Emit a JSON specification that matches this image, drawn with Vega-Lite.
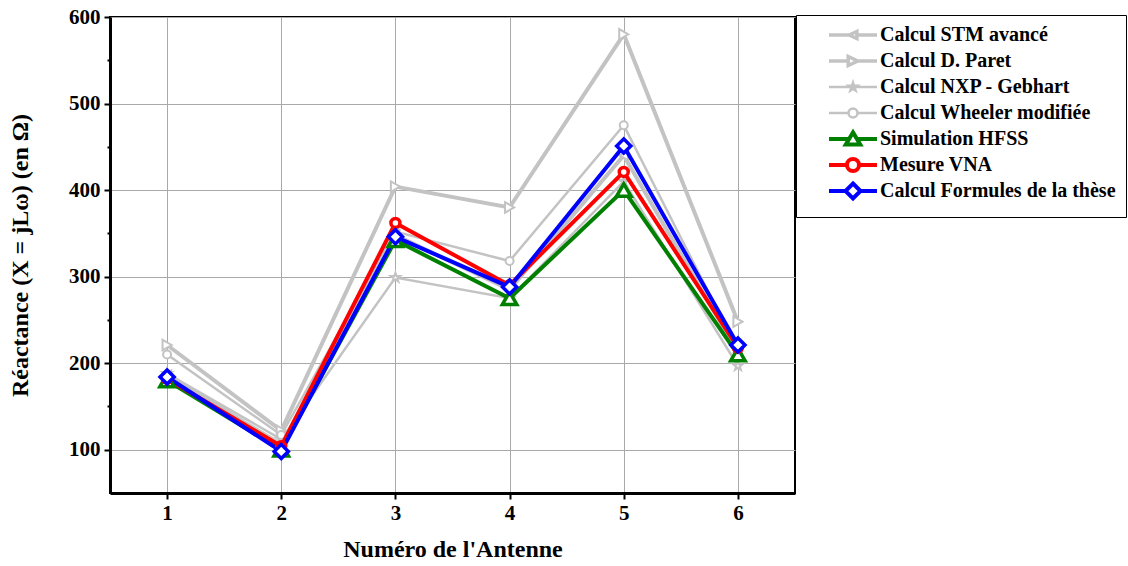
{
  "$schema": "https://vega.github.io/schema/vega-lite/v6.json",
  "width": 685,
  "height": 476,
  "autosize": "none",
  "padding": {"left": 110, "top": 17, "right": 333, "bottom": 73},
  "background": "white",
  "config": {"view": {"stroke": "black", "strokeWidth": 2}, "font": "Liberation Serif"},
  "data": {"values": [
    {"serie": "Calcul STM avancé", "antenne": 1, "valeur": 186},
    {"serie": "Calcul STM avancé", "antenne": 2, "valeur": 106},
    {"serie": "Calcul STM avancé", "antenne": 3, "valeur": 348},
    {"serie": "Calcul STM avancé", "antenne": 4, "valeur": 285},
    {"serie": "Calcul STM avancé", "antenne": 5, "valeur": 440},
    {"serie": "Calcul STM avancé", "antenne": 6, "valeur": 212},
    {"serie": "Calcul D. Paret", "antenne": 1, "valeur": 221},
    {"serie": "Calcul D. Paret", "antenne": 2, "valeur": 122},
    {"serie": "Calcul D. Paret", "antenne": 3, "valeur": 404},
    {"serie": "Calcul D. Paret", "antenne": 4, "valeur": 380},
    {"serie": "Calcul D. Paret", "antenne": 5, "valeur": 580},
    {"serie": "Calcul D. Paret", "antenne": 6, "valeur": 248},
    {"serie": "Calcul NXP - Gebhart", "antenne": 1, "valeur": 188},
    {"serie": "Calcul NXP - Gebhart", "antenne": 2, "valeur": 112},
    {"serie": "Calcul NXP - Gebhart", "antenne": 3, "valeur": 299},
    {"serie": "Calcul NXP - Gebhart", "antenne": 4, "valeur": 275},
    {"serie": "Calcul NXP - Gebhart", "antenne": 5, "valeur": 410},
    {"serie": "Calcul NXP - Gebhart", "antenne": 6, "valeur": 197},
    {"serie": "Calcul Wheeler modifiée", "antenne": 1, "valeur": 210},
    {"serie": "Calcul Wheeler modifiée", "antenne": 2, "valeur": 117},
    {"serie": "Calcul Wheeler modifiée", "antenne": 3, "valeur": 352},
    {"serie": "Calcul Wheeler modifiée", "antenne": 4, "valeur": 318},
    {"serie": "Calcul Wheeler modifiée", "antenne": 5, "valeur": 475},
    {"serie": "Calcul Wheeler modifiée", "antenne": 6, "valeur": 215},
    {"serie": "Simulation HFSS", "antenne": 1, "valeur": 180},
    {"serie": "Simulation HFSS", "antenne": 2, "valeur": 100},
    {"serie": "Simulation HFSS", "antenne": 3, "valeur": 342},
    {"serie": "Simulation HFSS", "antenne": 4, "valeur": 275},
    {"serie": "Simulation HFSS", "antenne": 5, "valeur": 400},
    {"serie": "Simulation HFSS", "antenne": 6, "valeur": 210},
    {"serie": "Mesure VNA", "antenne": 1, "valeur": 182},
    {"serie": "Mesure VNA", "antenne": 2, "valeur": 104},
    {"serie": "Mesure VNA", "antenne": 3, "valeur": 362},
    {"serie": "Mesure VNA", "antenne": 4, "valeur": 290},
    {"serie": "Mesure VNA", "antenne": 5, "valeur": 421},
    {"serie": "Mesure VNA", "antenne": 6, "valeur": 218},
    {"serie": "Calcul Formules de la thèse", "antenne": 1, "valeur": 184},
    {"serie": "Calcul Formules de la thèse", "antenne": 2, "valeur": 98},
    {"serie": "Calcul Formules de la thèse", "antenne": 3, "valeur": 346},
    {"serie": "Calcul Formules de la thèse", "antenne": 4, "valeur": 288},
    {"serie": "Calcul Formules de la thèse", "antenne": 5, "valeur": 451},
    {"serie": "Calcul Formules de la thèse", "antenne": 6, "valeur": 221}
  ]},
  "encoding": {
    "x": {
      "field": "antenne", "type": "quantitative",
      "scale": {"domain": [0.5, 6.5], "nice": false, "zero": false},
      "axis": {
        "values": [1, 2, 3, 4, 5, 6], "format": "d",
        "title": "Numéro de l'Antenne",
        "grid": true, "gridColor": "#a9a9a9", "gridWidth": 1,
        "domainColor": "black", "domainWidth": 3,
        "tickColor": "black", "tickWidth": 2, "tickSize": 6,
        "labelFont": "Liberation Serif", "labelFontWeight": "bold", "labelFontSize": 21, "labelColor": "black", "labelPadding": 3,
        "titleFont": "Liberation Serif", "titleFontWeight": "bold", "titleFontSize": 24, "titleColor": "black", "titlePadding": 14
      }
    },
    "y": {
      "field": "valeur", "type": "quantitative",
      "scale": {"domain": [50, 600], "nice": false, "zero": false},
      "axis": {
        "values": [100, 150, 200, 250, 300, 350, 400, 450, 500, 550, 600],
        "labelExpr": "datum.value % 100 === 0 ? datum.label : ''",
        "title": "Réactance (X = jLω) (en Ω)",
        "grid": true, "gridColor": "#a9a9a9", "gridWidth": 1,
        "gridOpacity": {"condition": {"test": "datum.value % 100 === 0", "value": 1}, "value": 0},
        "domainColor": "black", "domainWidth": 3,
        "tickColor": "black", "tickWidth": 2,
        "tickSize": {"condition": {"test": "datum.value % 100 === 0", "value": 6}, "value": 3},
        "labelFont": "Liberation Serif", "labelFontWeight": "bold", "labelFontSize": 21, "labelColor": "black", "labelPadding": 4,
        "titleFont": "Liberation Serif", "titleFontWeight": "bold", "titleFontSize": 24, "titleColor": "black", "titlePadding": 36
      }
    }
  },
  "layer": [
    {
      "transform": [{"filter": {"field": "serie", "oneOf": ["Calcul STM avancé", "Calcul D. Paret"]}}],
      "mark": {"type": "line", "strokeWidth": 4},
      "encoding": {
        "color": {
          "field": "serie", "type": "nominal",
          "scale": {
            "domain": ["Calcul STM avancé", "Calcul D. Paret", "Calcul NXP - Gebhart", "Calcul Wheeler modifiée", "Simulation HFSS", "Mesure VNA", "Calcul Formules de la thèse"],
            "range": ["#c3c3c3", "#c3c3c3", "#c3c3c3", "#c3c3c3", "#008000", "#ff0000", "#0000ff"]
          },
          "legend": {
            "title": null, "orient": "none", "legendX": 686, "legendY": -2,
            "strokeColor": "black", "fillColor": "white", "padding": 10,
            "symbolSize": 144, "symbolOffset": 37, "labelOffset": 17, "rowPadding": -7, "gridAlign": "all",
            "labelFont": "Liberation Serif", "labelFontSize": 20, "labelFontWeight": "bold", "labelColor": "black", "labelLimit": 400,
            "encode": {
              "symbols": {
                "update": {
                  "shape": {"signal": "datum.value === 'Calcul STM avancé' ? 'M-4,0L-0.65,0M0.65,0L4,0M-0.65,0L0.65,-0.6L0.65,0.6Z' : datum.value === 'Calcul D. Paret' ? 'M-4,0L-0.8,0M0.8,0L4,0M0.8,0L-0.8,-0.75L-0.8,0.75Z' : datum.value === 'Calcul NXP - Gebhart' ? 'M-4,0L-0.5,0M0.5,0L4,0M0,-0.7L0.158,-0.218L0.666,-0.216L0.257,0.083L0.412,0.566L0,0.27L-0.412,0.566L-0.257,0.083L-0.666,-0.216L-0.158,-0.218Z' : datum.value === 'Calcul Wheeler modifiée' ? 'M-4,0L-0.75,0M0.75,0L4,0M0.75,0A0.75,0.75,0,1,1,-0.75,0A0.75,0.75,0,1,1,0.75,0Z' : datum.value === 'Simulation HFSS' ? 'M-4,0L-0.66,0M0.66,0L4,0M0,-1.1L1.2,0.9L-1.2,0.9Z' : datum.value === 'Mesure VNA' ? 'M-4,0L-1,0M1,0L4,0M1,0A1,1,0,1,1,-1,0A1,1,0,1,1,1,0Z' : 'M-4,0L-1.25,0M1.25,0L4,0M0,-1.25L1.25,0L0,1.25L-1.25,0Z'"},
                  "fill": {"value": "white"},
                  "fillOpacity": {"value": 1},
                  "opacity": {"value": 1},
                  "size": {"value": 144},
                  "strokeWidth": {"signal": "datum.value === 'Calcul NXP - Gebhart' || datum.value === 'Calcul Wheeler modifiée' ? 2.5 : datum.value === 'Calcul STM avancé' || datum.value === 'Calcul D. Paret' ? 3.5 : 4"}
                }
              }
            }
          }
        }
      }
    },
    {
      "transform": [{"filter": {"field": "serie", "oneOf": ["Calcul NXP - Gebhart", "Calcul Wheeler modifiée"]}}],
      "mark": {"type": "line", "strokeWidth": 2.5},
      "encoding": {
        "color": {"field": "serie", "type": "nominal", "legend": null}
      }
    },
    {
      "transform": [{"filter": {"field": "serie", "oneOf": ["Calcul STM avancé", "Calcul D. Paret", "Calcul NXP - Gebhart", "Calcul Wheeler modifiée"]}}],
      "mark": {"type": "point", "filled": true, "fill": "white", "strokeWidth": 2, "opacity": 1},
      "encoding": {
        "stroke": {
          "field": "serie", "type": "nominal", "legend": null,
          "scale": {
            "domain": ["Calcul Formules de la thèse", "Mesure VNA", "Simulation HFSS", "Calcul Wheeler modifiée", "Calcul NXP - Gebhart", "Calcul D. Paret", "Calcul STM avancé"],
            "range": ["#0000ff", "#ff0000", "#008000", "#c3c3c3", "#c3c3c3", "#c3c3c3", "#c3c3c3"]
          }
        },
        "shape": {
          "field": "serie", "type": "nominal", "legend": null,
          "scale": {
            "domain": ["Calcul Formules de la thèse", "Mesure VNA", "Simulation HFSS", "Calcul Wheeler modifiée", "Calcul NXP - Gebhart", "Calcul D. Paret", "Calcul STM avancé"],
            "range": ["diamond", "circle", "triangle-up", "circle", "M0,-1L0.224,-0.309L0.951,-0.309L0.363,0.118L0.588,0.809L0,0.382L-0.588,0.809L-0.363,0.118L-0.951,-0.309L-0.224,-0.309Z", "triangle-right", "triangle-left"]
          }
        },
        "size": {
          "field": "serie", "type": "nominal", "legend": null,
          "scale": {
            "type": "ordinal",
            "domain": ["Calcul Formules de la thèse", "Mesure VNA", "Simulation HFSS", "Calcul Wheeler modifiée", "Calcul NXP - Gebhart", "Calcul D. Paret", "Calcul STM avancé"],
            "range": [200, 80, 210, 64, 100, 110, 90]
          }
        }
      }
    },
    {
      "transform": [{"filter": {"field": "serie", "oneOf": ["Simulation HFSS", "Mesure VNA", "Calcul Formules de la thèse"]}}],
      "mark": {"type": "line", "strokeWidth": 4},
      "encoding": {
        "color": {"field": "serie", "type": "nominal", "legend": null}
      }
    },
    {
      "transform": [{"filter": {"field": "serie", "oneOf": ["Simulation HFSS", "Mesure VNA", "Calcul Formules de la thèse"]}}],
      "mark": {"type": "point", "filled": true, "fill": "white", "strokeWidth": 3.5, "opacity": 1},
      "encoding": {
        "stroke": {
          "field": "serie", "type": "nominal", "legend": null,
          "scale": {
            "domain": ["Calcul Formules de la thèse", "Mesure VNA", "Simulation HFSS", "Calcul Wheeler modifiée", "Calcul NXP - Gebhart", "Calcul D. Paret", "Calcul STM avancé"],
            "range": ["#0000ff", "#ff0000", "#008000", "#c3c3c3", "#c3c3c3", "#c3c3c3", "#c3c3c3"]
          }
        },
        "shape": {
          "field": "serie", "type": "nominal", "legend": null,
          "scale": {
            "domain": ["Calcul Formules de la thèse", "Mesure VNA", "Simulation HFSS", "Calcul Wheeler modifiée", "Calcul NXP - Gebhart", "Calcul D. Paret", "Calcul STM avancé"],
            "range": ["diamond", "circle", "triangle-up", "circle", "M0,-1L0.224,-0.309L0.951,-0.309L0.363,0.118L0.588,0.809L0,0.382L-0.588,0.809L-0.363,0.118L-0.951,-0.309L-0.224,-0.309Z", "triangle-right", "triangle-left"]
          }
        },
        "size": {
          "field": "serie", "type": "nominal", "legend": null,
          "scale": {
            "type": "ordinal",
            "domain": ["Calcul Formules de la thèse", "Mesure VNA", "Simulation HFSS", "Calcul Wheeler modifiée", "Calcul NXP - Gebhart", "Calcul D. Paret", "Calcul STM avancé"],
            "range": [200, 80, 210, 64, 100, 110, 90]
          }
        }
      }
    }
  ]
}
